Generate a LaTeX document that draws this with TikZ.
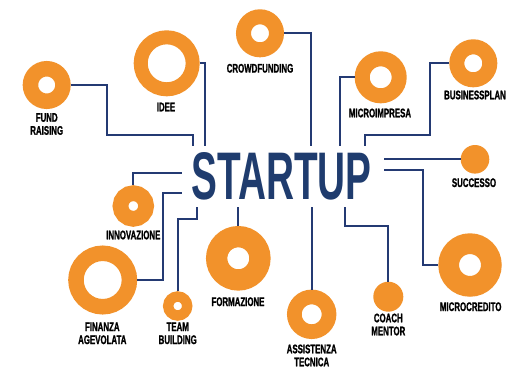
\documentclass[tikz,border=0pt]{standalone}
\usepackage{fontspec}
\usepackage{graphicx}
\setmainfont{Liberation Sans}
\newfontfamily\lblfont[FakeStretch=0.63,FakeBold=1.2]{Liberation Sans}
\newfontfamily\titlefont{Liberation Sans}
\definecolor{ringorange}{HTML}{F2922B}
\definecolor{navy}{HTML}{243A73}
\definecolor{titleblue}{HTML}{1F3C6E}
\tikzset{
  ring/.style={circle, draw=ringorange, inner sep=0pt},
  dot/.style={circle, fill=ringorange, inner sep=0pt, outer sep=0pt},
  lbl/.style={inner sep=0pt, align=center, font=\lblfont\bfseries\fontsize{12.5}{13}\selectfont, text=black},
  wire/.style={draw=navy, line width=2pt, line join=miter},
}
\begin{document}
\begin{tikzpicture}[x=1pt,y=-1pt]
\useasboundingbox (0,0) rectangle (506,368);
\fill[white] (0,0) rectangle (506,368);

% title
\node[inner sep=0pt, text=titleblue] (startup) at (281.7,176.7)
  {\resizebox{180pt}{47pt}{\titlefont\bfseries STARTUP}};

% rings (minimum size = R+r, line width = R-r)
\node[ring, minimum size=32.5pt, line width=15.5pt, outer sep=7.75pt] (fund) at (46.7,85) {};
\node[ring, minimum size=52pt, line width=14pt, outer sep=7pt] (idee) at (166.7,63.3) {};
\node[ring, minimum size=33pt, line width=15pt, outer sep=7.5pt] (crowd) at (260,33.3) {};
\node[ring, minimum size=37pt, line width=15pt, outer sep=7.5pt] (micro) at (380.7,77.3) {};
\node[ring, minimum size=33pt, line width=15pt, outer sep=7.5pt] (bplan) at (473.3,63.3) {};
\node[dot, minimum size=28.6pt] (succ) at (475,159.3) {};
\node[ring, minimum size=42.7pt, line width=20.7pt, outer sep=10.35pt] (mcred) at (470,265) {};
\node[dot, minimum size=30pt] (coach) at (388.3,296.7) {};
\node[ring, minimum size=34.7pt, line width=14.7pt, outer sep=7.35pt] (assist) at (311.7,314.3) {};
\node[ring, minimum size=43.3pt, line width=21.3pt, outer sep=10.65pt] (form) at (238.3,258.3) {};
\node[ring, minimum size=19pt, line width=10.4pt, outer sep=5.2pt] (team) at (177.7,306) {};
\node[ring, minimum size=53.5pt, line width=15.5pt, outer sep=7.75pt] (fin) at (102.7,280) {};
\node[ring, minimum size=25.7pt, line width=15.7pt, outer sep=7.85pt] (innov) at (133.3,206) {};

% labels
\node[lbl] (lfund) at (46.7,124) {FUND\\RAISING};
\node[lbl] (lidee) at (166,107) {IDEE};
\node[lbl] (lcrowd) at (260,68.3) {CROWDFUNDING};
\node[lbl] (lmicro) at (380,113) {MICROIMPRESA};
\node[lbl] (lbplan) at (475,95) {BUSINESSPLAN};
\node[lbl] (lsucc) at (474,182.7) {SUCCESSO};
\node[lbl] (lmcred) at (470.7,306.7) {MICROCREDITO};
\node[lbl] (lcoach) at (388.3,324.5) {COACH\\MENTOR};
\node[lbl] (lassist) at (311.7,355.5) {ASSISTENZA\\TECNICA};
\node[lbl] (lform) at (238,301.7) {FORMAZIONE};
\node[lbl] (lteam) at (177.7,333.3) {TEAM\\BUILDING};
\node[lbl] (lfin) at (102.3,333.3) {FINANZA\\AGEVOLATA};
\node[lbl] (linnov) at (133.3,235) {INNOVAZIONE};

% connector ends at the title
\coordinate (tfund) at (192.7,146);
\coordinate (tidee) at (205,146);
\coordinate (tcrowd) at (310.5,146);
\coordinate (tmicro) at (339.5,146);
\coordinate (tbplan) at (365,146);
\coordinate (tsucc) at (384,159.3);
\coordinate (tmcred) at (384,169.5);
\coordinate (tcoach) at (344.5,206.7);
\coordinate (tassist) at (311.7,206.7);
\coordinate (tform) at (238.3,206.7);
\coordinate (tteam) at (196.7,206.7);
\coordinate (tfin) at (181.7,192.7);
\coordinate (tinnov) at (181.7,173.3);

% connectors
\draw[wire] (fund.east) -| (106.7,135) -| (tfund);
\draw[wire] (idee.east) -| (tidee);
\draw[wire] (crowd.east) -| (tcrowd);
\draw[wire] (micro.west) -| (tmicro);
\draw[wire] (bplan.west) -| (430,135) -| (tbplan);
\draw[wire] (succ.west) -- (tsucc);
\draw[wire] (tmcred) -- (423,169.5) |- (mcred.west);
\draw[wire] (coach.north) |- (344.5,226) -- (tcoach);
\draw[wire] (assist.north) -- (tassist);
\draw[wire] (form.north) -- (tform);
\draw[wire] (team.north) |- (196.7,219.3) -- (tteam);
\draw[wire] (fin.east) -| (163.3,192.7) -- (tfin);
\draw[wire] (innov.north) |- (tinnov);
\end{tikzpicture}
\end{document}
